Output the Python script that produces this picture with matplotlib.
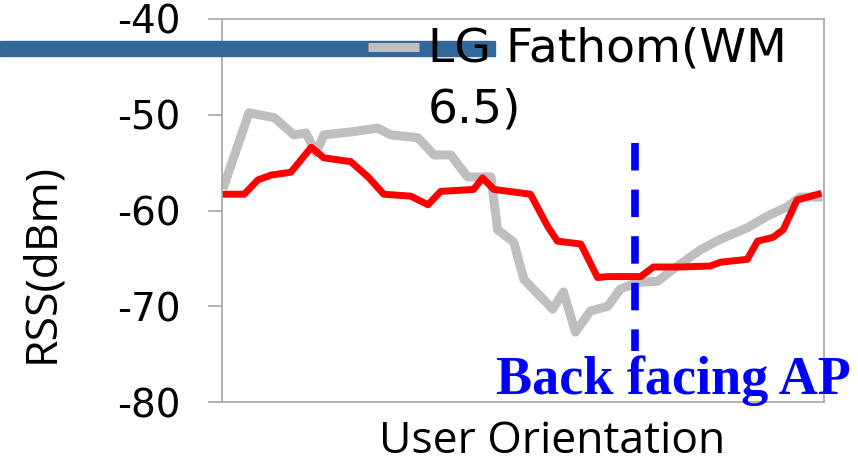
import matplotlib
matplotlib.use("Agg")
import matplotlib.pyplot as plt
from matplotlib.lines import Line2D
from matplotlib.patches import Rectangle

plt.rcParams['axes.unicode_minus'] = False

# RSS traces over one turn of the user
fathom_x = [0.2, 4.3, 8.5, 11.8, 13.8, 15.5, 16.8, 21.3, 25.8, 28.0, 32.5, 35.2,
            38.0, 40.8, 44.7, 45.8, 48.5, 50.2, 53.0, 55.0, 56.8, 58.8, 61.3,
            64.2, 66.3, 69.2, 72.5, 75.2, 79.7, 83.0, 87.5, 90.8, 94.2, 96.3, 99.3]
fathom_rss = [-57.3, -49.8, -50.3, -52.1, -51.9, -54.0, -52.1, -51.8, -51.4, -52.1,
              -52.4, -54.2, -54.2, -56.5, -56.5, -62.0, -63.3, -67.2, -69.0, -70.3,
              -68.5, -72.7, -70.5, -70.0, -68.2, -67.5, -67.4, -66.1, -64.1, -63.0,
              -61.8, -60.6, -59.6, -58.6, -58.6]

red_x = [0.2, 3.5, 5.8, 8.0, 11.3, 14.7, 16.8, 21.3, 24.2, 26.8, 31.3, 34.2, 36.3,
         41.8, 43.3, 45.2, 51.3, 54.2, 55.8, 59.7, 62.5, 64.2, 69.7, 71.8, 76.3,
         81.3, 83.0, 87.5, 89.2, 91.8, 93.5, 95.8, 99.3]
red_rss = [-58.3, -58.3, -56.8, -56.3, -56.0, -53.4, -54.5, -54.9, -56.5, -58.3,
           -58.5, -59.4, -58.0, -57.8, -56.6, -57.8, -58.3, -61.7, -63.2, -63.5,
           -67.0, -66.9, -66.9, -65.9, -65.9, -65.8, -65.4, -65.1, -63.2, -62.8,
           -62.0, -58.9, -58.3]

back_x = 68.8
back_span = [-52.9, -74.7]
yticks = [-80, -70, -60, -50, -40]

W, H = 858, 461
fig = plt.figure(figsize=(W / 100, H / 100), dpi=100)
ax = fig.add_axes([222 / W, 1 - 402 / H, 602 / W, 383 / H])

ax.plot(fathom_x, fathom_rss, color='#bfbfbf', lw=6.5, solid_joinstyle='round')
ax.plot(red_x, red_rss, color='#ff0000', lw=5, solid_joinstyle='round')
ax.plot([back_x, back_x], back_span, color='#0000ff', lw=5.5,
        dashes=(3.6, 2.5), solid_capstyle='butt')

ax.set_xlim(-0.2, 100.3)
ax.set_ylim(-80, -40)
ax.set_xticks([])
ax.set_yticks(yticks)
ax.set_yticklabels([str(v) for v in yticks], fontsize=28, family='DejaVu Sans')
ax.tick_params(axis='y', direction='out', length=10, width=1.2,
               color='#a6a6a6', pad=20)
for s in ax.spines.values():
    s.set_color('#a6a6a6')
    s.set_linewidth(1.2)

ax.set_ylabel('RSS(dBm)', fontsize=32, family='Open Sans')
ax.yaxis.set_label_coords(-0.262, 0.363)
ax.set_xlabel('User Orientation', fontsize=32, family='Open Sans')
ax.xaxis.set_label_coords(0.548, -0.045)

ax.text(45.5, -79.2, 'Back facing AP', color='#0000ff', fontsize=39,
        family='Liberation Serif', weight='bold', ha='left', va='baseline',
        clip_on=False, zorder=5)

# legend strip across the top
fig.add_artist(Rectangle((0, 1 - 56 / H), 495 / W, 15 / H, color='#32679a',
                         transform=fig.transFigure, zorder=1))
fig.add_artist(Line2D([368 / W, 419 / W], [1 - 47.5 / H] * 2, color='#bfbfbf',
                      lw=6.5, solid_capstyle='butt', transform=fig.transFigure,
                      zorder=2))
fig.text(428 / W, 1 - 27 / H, 'LG Fathom(WM\n6.5)', fontsize=34,
         family='DejaVu Sans', ha='left', va='top', linespacing=1.45, zorder=3)

fig.savefig('out.png', dpi=100)
